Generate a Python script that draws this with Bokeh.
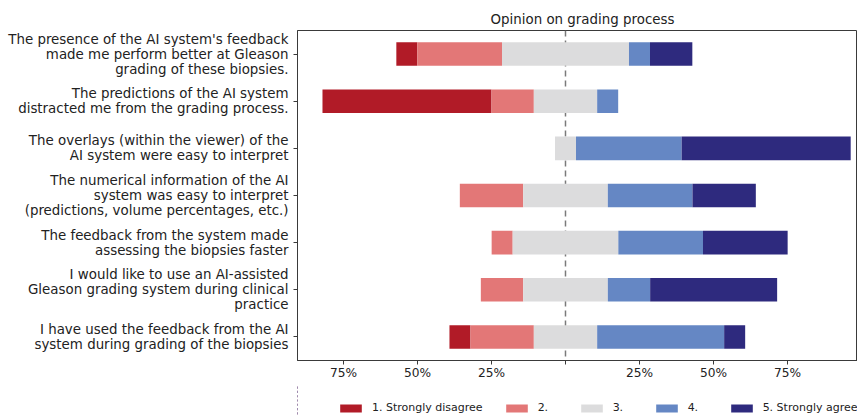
from bokeh.plotting import figure
from bokeh.layouts import column
from bokeh.models import (ColumnDataSource, FactorRange, Range1d, Span, Legend,
                          LegendItem, FixedTicker)
from bokeh.embed import file_html
from bokeh.resources import INLINE

# ---- data (percent of respondents per answer) ----
questions = [
    "The presence of the AI system's feedback\nmade me perform better at Gleason\ngrading of these biopsies.",
    "The predictions of the AI system\ndistracted me from the grading process.",
    "The overlays (within the viewer) of the\nAI system were easy to interpret",
    "The numerical information of the AI\nsystem was easy to interpret\n(predictions, volume percentages, etc.)",
    "The feedback from the system made\nassessing the biopsies faster",
    "I would like to use an AI-assisted\nGleason grading system during clinical\npractice",
    "I have used the feedback from the AI\nsystem during grading of the biopsies",
]
strongly_disagree = [7.1, 57.1, 0.0, 0.0, 0.0, 0.0, 7.1]
disagree = [28.6, 14.3, 0.0, 21.4, 7.1, 14.3, 21.4]
neutral = [42.9, 21.4, 7.1, 28.6, 35.7, 28.6, 21.4]
agree = [7.1, 7.1, 35.7, 28.6, 28.6, 14.3, 42.9]
strongly_agree = [14.3, 0.0, 57.1, 21.4, 28.6, 42.9, 7.1]

level_labels = ["1. Strongly disagree", "2.", "3.", "4.", "5. Strongly agree"]
level_colors = ["#b11b27", "#e37777", "#dcdcdd", "#6587c4", "#2e2a7e"]

tick_values = [-75, -50, -25, 0, 25, 50, 75]
tick_labels = ["75%", "50%", "25%", "", "25%", "50%", "75%"]

title_text = "Opinion on grading process"

# ---- compute stacked extents (diverging around the neutral midpoint) ----
lefts = [[], [], [], [], []]
rights = [[], [], [], [], []]
for i in range(len(questions)):
    n_half = neutral[i] / 2.0
    lefts[2].append(-n_half); rights[2].append(n_half)
    lefts[1].append(-n_half - disagree[i]); rights[1].append(-n_half)
    lefts[0].append(-n_half - disagree[i] - strongly_disagree[i]); rights[0].append(-n_half - disagree[i])
    lefts[3].append(n_half); rights[3].append(n_half + agree[i])
    lefts[4].append(n_half + agree[i]); rights[4].append(n_half + agree[i] + strongly_agree[i])

FONT = "DejaVu Sans"
TEXT_COLOR = "#222222"
FRAME_COLOR = "#3a3a3a"

p = figure(
    frame_width=560, frame_height=330,
    y_range=FactorRange(factors=list(reversed(questions))),
    x_range=Range1d(-90.54, 98.65),
    output_backend="svg", toolbar_location=None,
    min_border_left=297, min_border_right=0, min_border_top=30, min_border_bottom=25,
)

p.xgrid.visible = False
p.ygrid.visible = False
p.outline_line_color = FRAME_COLOR
p.outline_line_width = 1
p.background_fill_color = "white"
p.border_fill_color = "white"

# center dashed line (behind the bars)
p.add_layout(Span(location=0, dimension="height", line_color="#7a7a7a",
                  line_dash="6 4", line_width=1.5, level="underlay"))

sources = []
for k in range(5):
    src = ColumnDataSource(dict(y=questions, left=lefts[k], right=rights[k]))
    sources.append(src)
    p.hbar(y="y", left="left", right="right", height=0.5, source=src,
           fill_color=level_colors[k], line_color=None)

# title
p.title.text = title_text
p.title.text_font = FONT
p.title.text_font_size = "13.4px"
p.title.text_font_style = "normal"
p.title.text_color = TEXT_COLOR
p.title.align = "left"
p.title.offset = 193
p.title.standoff = 7

# x axis
p.xaxis.axis_label = None
p.xaxis.ticker = FixedTicker(ticks=tick_values)
p.xaxis.major_label_overrides = {v: l for v, l in zip(tick_values, tick_labels)}
p.xaxis.minor_tick_line_color = None
p.xaxis.major_tick_in = 0
p.xaxis.major_tick_out = 4
p.xaxis.major_label_standoff = 1
p.xaxis.major_label_text_font = FONT
p.xaxis.major_label_text_font_size = "12.2px"
p.xaxis.major_label_text_color = TEXT_COLOR
p.xaxis.axis_line_color = FRAME_COLOR
p.xaxis.major_tick_line_color = FRAME_COLOR

# y axis
p.yaxis.axis_label = None
p.yaxis.major_tick_in = 0
p.yaxis.major_tick_out = 4
p.yaxis.major_label_standoff = 5
p.yaxis.major_label_text_font = FONT
p.yaxis.major_label_text_font_size = "13.4px"
p.yaxis.major_label_text_color = TEXT_COLOR
p.yaxis.major_label_text_line_height = 1.0
p.yaxis.axis_line_color = FRAME_COLOR
p.yaxis.major_tick_line_color = FRAME_COLOR

# ---- legend strip below the chart (bars of the same data, out of view) ----
leg_fig = figure(
    width=857, height=30,
    x_range=Range1d(200, 201), y_range=FactorRange(factors=list(reversed(questions))),
    x_axis_type=None, y_axis_type=None,
    output_backend="svg", toolbar_location=None,
    min_border=0, min_border_left=0, min_border_right=0,
    min_border_top=0, min_border_bottom=0,
)
leg_fig.outline_line_color = None
leg_fig.background_fill_color = "white"
leg_fig.border_fill_color = "white"

items = []
for k in range(5):
    r = leg_fig.hbar(y="y", left="left", right="right", height=0.5, source=sources[k],
                     fill_color=level_colors[k], line_color=None)
    items.append(LegendItem(label=level_labels[k], renderers=[r]))

legend = Legend(items=items, orientation="horizontal", location=(40, 1),
                glyph_width=27, glyph_height=10, label_standoff=8, spacing=20,
                label_text_font=FONT, label_text_font_size="11px",
                label_text_color=TEXT_COLOR, label_height=12,
                padding=0, margin=0, border_line_color=None,
                background_fill_alpha=0)
leg_fig.add_layout(legend)

layout = column(p, leg_fig)

open("out.html", "w").write(file_html(layout, INLINE))
